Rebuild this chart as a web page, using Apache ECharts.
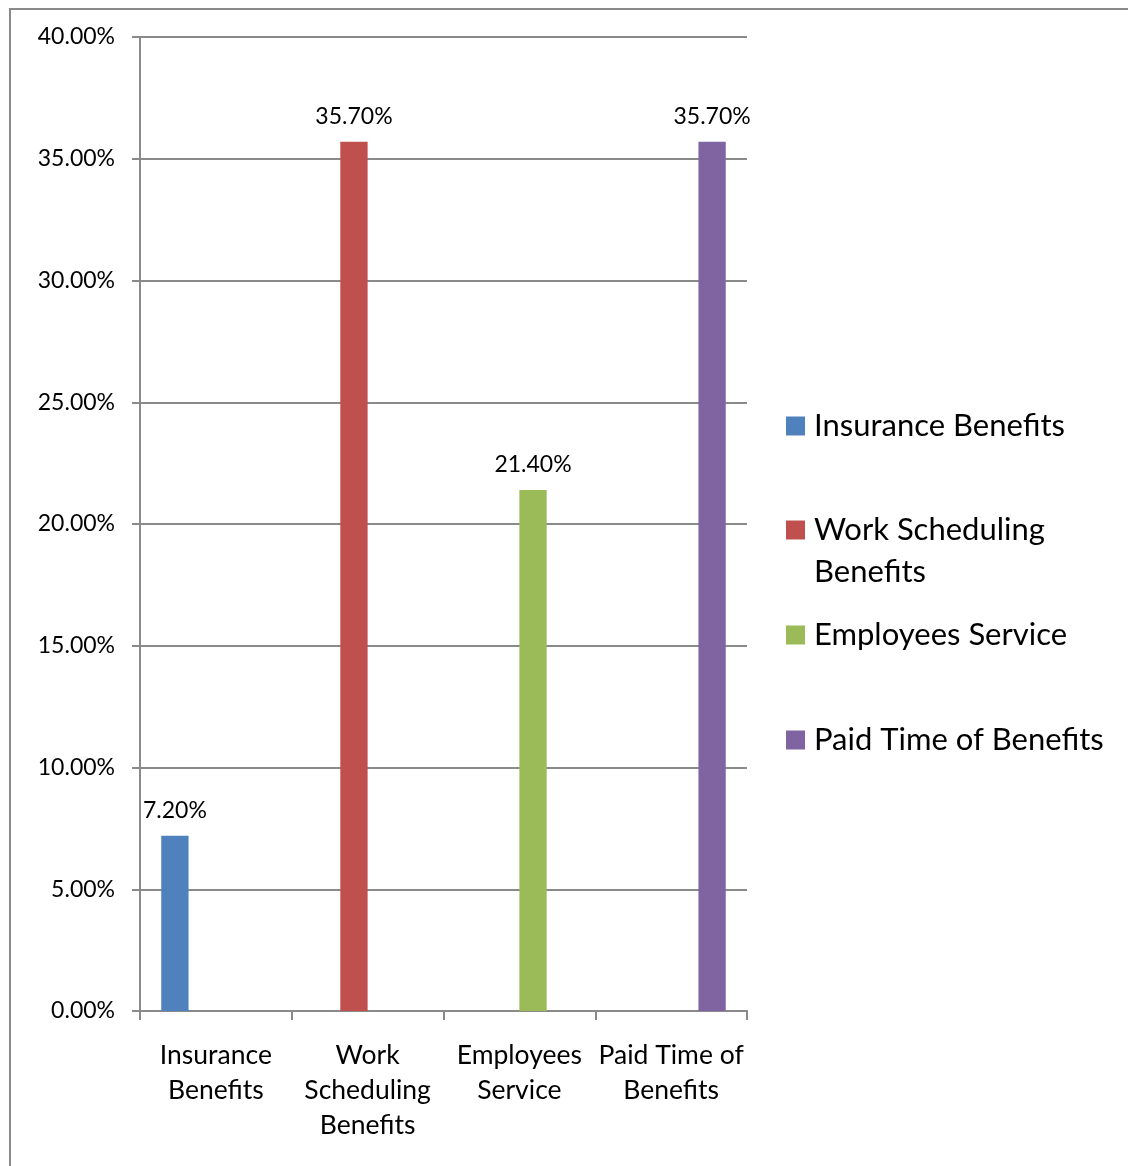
<!DOCTYPE html>
<html>
<head>
<meta charset="utf-8">
<script src="https://cdn.jsdelivr.net/npm/echarts@6/dist/echarts.min.js"></script>
<style>
html,body{margin:0;padding:0;background:#fff;}
#chart{width:1128px;height:1166px;}
</style>
</head>
<body>
<div id="chart"></div>
<script>
// Data
const categories = ['Insurance Benefits', 'Work Scheduling Benefits', 'Employees Service', 'Paid Time of Benefits'];
const categoryLabels = ['Insurance\nBenefits', 'Work\nScheduling\nBenefits', 'Employees\nService', 'Paid Time of\nBenefits'];
const seriesNames = ['Insurance Benefits', 'Work Scheduling Benefits', 'Employees Service', 'Paid Time of Benefits'];
const legendLabels = ['Insurance Benefits', '\nWork Scheduling\nBenefits', 'Employees Service', 'Paid Time of Benefits'];
const insuranceValues = [7.2, null, null, null];
const workSchedulingValues = [null, 35.7, null, null];
const employeesServiceValues = [null, null, 21.4, null];
const paidTimeValues = [null, null, null, 35.7];
const yTicks = [0, 5, 10, 15, 20, 25, 30, 35, 40];

const seriesValues = [insuranceValues, workSchedulingValues, employeesServiceValues, paidTimeValues];
const colors = ['#4F81BD', '#C0504D', '#9BBB59', '#8064A2'];
const FONT = 'Lato';
const gray = '#8a8a8a';

const chart = echarts.init(document.getElementById('chart'));

const legendTops = [405, 467, 614, 719];
const legends = seriesNames.map((n, i) => ({
  show: true,
  orient: 'vertical',
  left: 786,
  top: legendTops[i],
  padding: 0,
  icon: 'rect',
  itemWidth: 19,
  itemHeight: 19,
  data: [n],
  selectedMode: false,
  formatter: () => legendLabels[i],
  textStyle: {
    fontFamily: FONT,
    fontSize: 31,
    color: '#000',
    lineHeight: 42,
    padding: [0, 0, 0, 4]
  }
}));

const option = {
  animation: false,
  backgroundColor: '#fff',
  color: colors,
  graphic: [{
    type: 'rect',
    shape: { x: 10, y: 9, width: 1400, height: 1400 },
    style: { fill: 'none', stroke: gray, lineWidth: 2 },
    silent: true
  }],
  legend: legends,
  grid: { left: 140, right: 381, top: 37, bottom: 155, containLabel: false },
  xAxis: {
    type: 'category',
    data: categories,
    boundaryGap: true,
    axisLine: { lineStyle: { color: gray, width: 2 } },
    axisTick: { show: true, length: 9, alignWithLabel: false, lineStyle: { color: gray, width: 2 } },
    axisLabel: {
      margin: 27,
      fontFamily: FONT,
      fontSize: 26.5,
      lineHeight: 35,
      color: '#000',
      interval: 0,
      formatter: (v, idx) => categoryLabels[idx]
    },
    splitLine: { show: false }
  },
  yAxis: {
    type: 'value',
    min: yTicks[0],
    max: yTicks[yTicks.length - 1],
    interval: 5,
    axisLine: { show: true, lineStyle: { color: gray, width: 2 } },
    axisTick: { show: true, length: 8, lineStyle: { color: gray, width: 2 } },
    axisLabel: {
      margin: 25,
      fontFamily: FONT,
      fontSize: 23,
      color: '#000',
      formatter: v => v.toFixed(2) + '%'
    },
    splitLine: { show: true, lineStyle: { color: gray, width: 2 } }
  },
  series: seriesNames.map((n, i) => ({
    name: n,
    type: 'bar',
    data: seriesValues[i],
    barWidth: '18%',
    barGap: '0%',
    itemStyle: { color: colors[i] },
    label: {
      show: true,
      position: 'top',
      distance: 14,
      fontFamily: FONT,
      fontSize: 23,
      color: '#000',
      formatter: p => p.value == null ? '' : p.value.toFixed(2) + '%'
    }
  }))
};
chart.setOption(option);
</script>
</body>
</html>
